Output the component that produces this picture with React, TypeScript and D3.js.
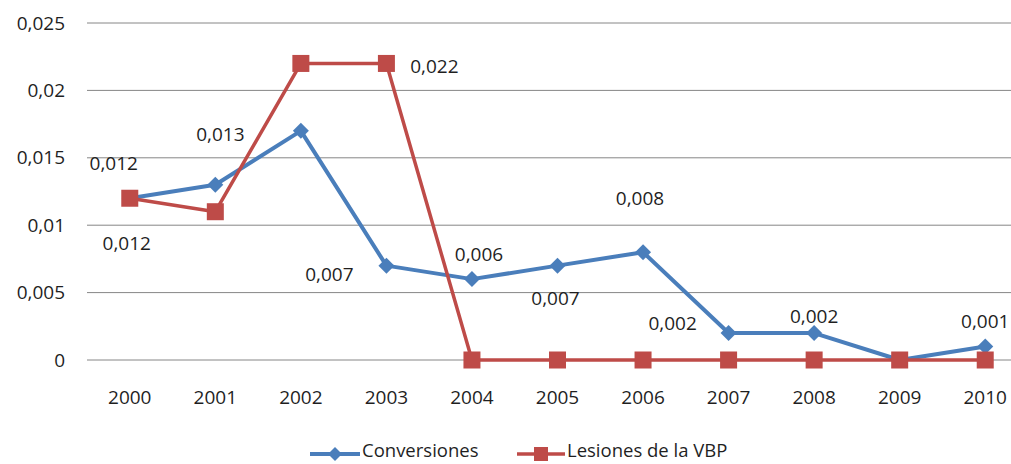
import React from 'react';
import * as d3 from 'd3';

const years = ['2000', '2001', '2002', '2003', '2004', '2005', '2006', '2007', '2008', '2009', '2010'];
const conversiones = [0.012, 0.013, 0.017, 0.007, 0.006, 0.007, 0.008, 0.002, 0.002, 0, 0.001];
const lesiones = [0.012, 0.011, 0.022, 0.022, 0, 0, 0, 0, 0, 0, 0];
const yTicks = [0, 0.005, 0.01, 0.015, 0.02, 0.025];
const seriesNames = ['Conversiones', 'Lesiones de la VBP'];

// data labels Excel placed: which series, which year index
const labelPoints = [
  { series: 0, i: 0 },
  { series: 1, i: 0 },
  { series: 0, i: 1 },
  { series: 1, i: 3 },
  { series: 0, i: 3 },
  { series: 0, i: 4 },
  { series: 0, i: 5 },
  { series: 0, i: 6 },
  { series: 0, i: 7 },
  { series: 0, i: 8 },
  { series: 0, i: 10 },
];
// label offsets from their point (layout only)
const labelOffsets = [
  [-16, -35], [-3, 45], [5, -50], [48, 3], [-57, 9], [7, -25],
  [-2, 33], [-3, -54], [-56, -10], [0, -17], [0, -25],
];

const W = 1011;
const H = 464;
const FONT = '"Open Sans", sans-serif';
const BLUE = '#4A7EBB';
const RED = '#BE4B48';
const TEXT = '#1f1f1f';

const fmt = (v: number) => String(v).replace('.', ',');

export default function App() {
  const x = d3.scaleBand<string>().domain(years).range([87, 1028]);
  const y = d3.scaleLinear().domain([0, 0.025]).range([360, 23]);
  const cx = (i: number) => (x(years[i]) as number) + x.bandwidth() / 2;

  const line = d3
    .line<number>()
    .x((_, i) => cx(i))
    .y((d) => y(d));

  const data = [conversiones, lesiones];
  const diamond = (px: number, py: number, r: number) =>
    `M${px},${py - r}L${px + r},${py}L${px},${py + r}L${px - r},${py}Z`;

  const legendY = 451;

  return (
    <svg width={W} height={H} style={{ position: 'absolute', left: 0, top: 0, background: '#fff' }}>
      {yTicks.map((t) => (
        <g key={t}>
          <line x1={87} x2={W} y1={y(t)} y2={y(t)} stroke="#868686" strokeWidth={1} />
          <text
            x={65}
            y={y(t)}
            dy="0.35em"
            textAnchor="end"
            fontFamily={FONT}
            fontSize={19}
            fill={TEXT}
          >
            {fmt(t)}
          </text>
        </g>
      ))}
      {years.map((yr, i) => (
        <text
          key={yr}
          x={cx(i)}
          y={397}
          dy="0.35em"
          textAnchor="middle"
          fontFamily={FONT}
          fontSize={19}
          fill={TEXT}
        >
          {yr}
        </text>
      ))}

      <path d={line(conversiones) || ''} fill="none" stroke={BLUE} strokeWidth={4} strokeLinejoin="round" />
      {conversiones.map((v, i) => (
        <path key={'c' + i} d={diamond(cx(i), y(v), 8)} fill={BLUE} />
      ))}

      <path d={line(lesiones) || ''} fill="none" stroke={RED} strokeWidth={3.5} strokeLinejoin="round" />
      {lesiones.map((v, i) => (
        <rect key={'l' + i} x={cx(i) - 8.5} y={y(v) - 8.5} width={17} height={17} fill={RED} />
      ))}

      {labelPoints.map((p, k) => {
        const v = data[p.series][p.i];
        return (
          <text
            key={'lab' + k}
            x={cx(p.i) + labelOffsets[k][0]}
            y={y(v) + labelOffsets[k][1]}
            dy="0.35em"
            textAnchor="middle"
            fontFamily={FONT}
            fontSize={19}
            fill={TEXT}
          >
            {fmt(v)}
          </text>
        );
      })}

      {/* legend */}
      <g>
        <line x1={310} x2={360} y1={legendY + 3} y2={legendY + 3} stroke={BLUE} strokeWidth={4} />
        <path d={diamond(335, legendY + 3, 7)} fill={BLUE} />
        <text x={362} y={legendY} dy="0.3em" fontFamily={FONT} fontSize={18.5} fill={TEXT}>
          {seriesNames[0]}
        </text>
        <line x1={517} x2={565} y1={legendY + 3} y2={legendY + 3} stroke={RED} strokeWidth={3.5} />
        <rect x={534} y={legendY - 4} width={14} height={14} fill={RED} />
        <text x={567} y={legendY} dy="0.3em" fontFamily={FONT} fontSize={18.5} fill={TEXT}>
          {seriesNames[1]}
        </text>
      </g>
    </svg>
  );
}
